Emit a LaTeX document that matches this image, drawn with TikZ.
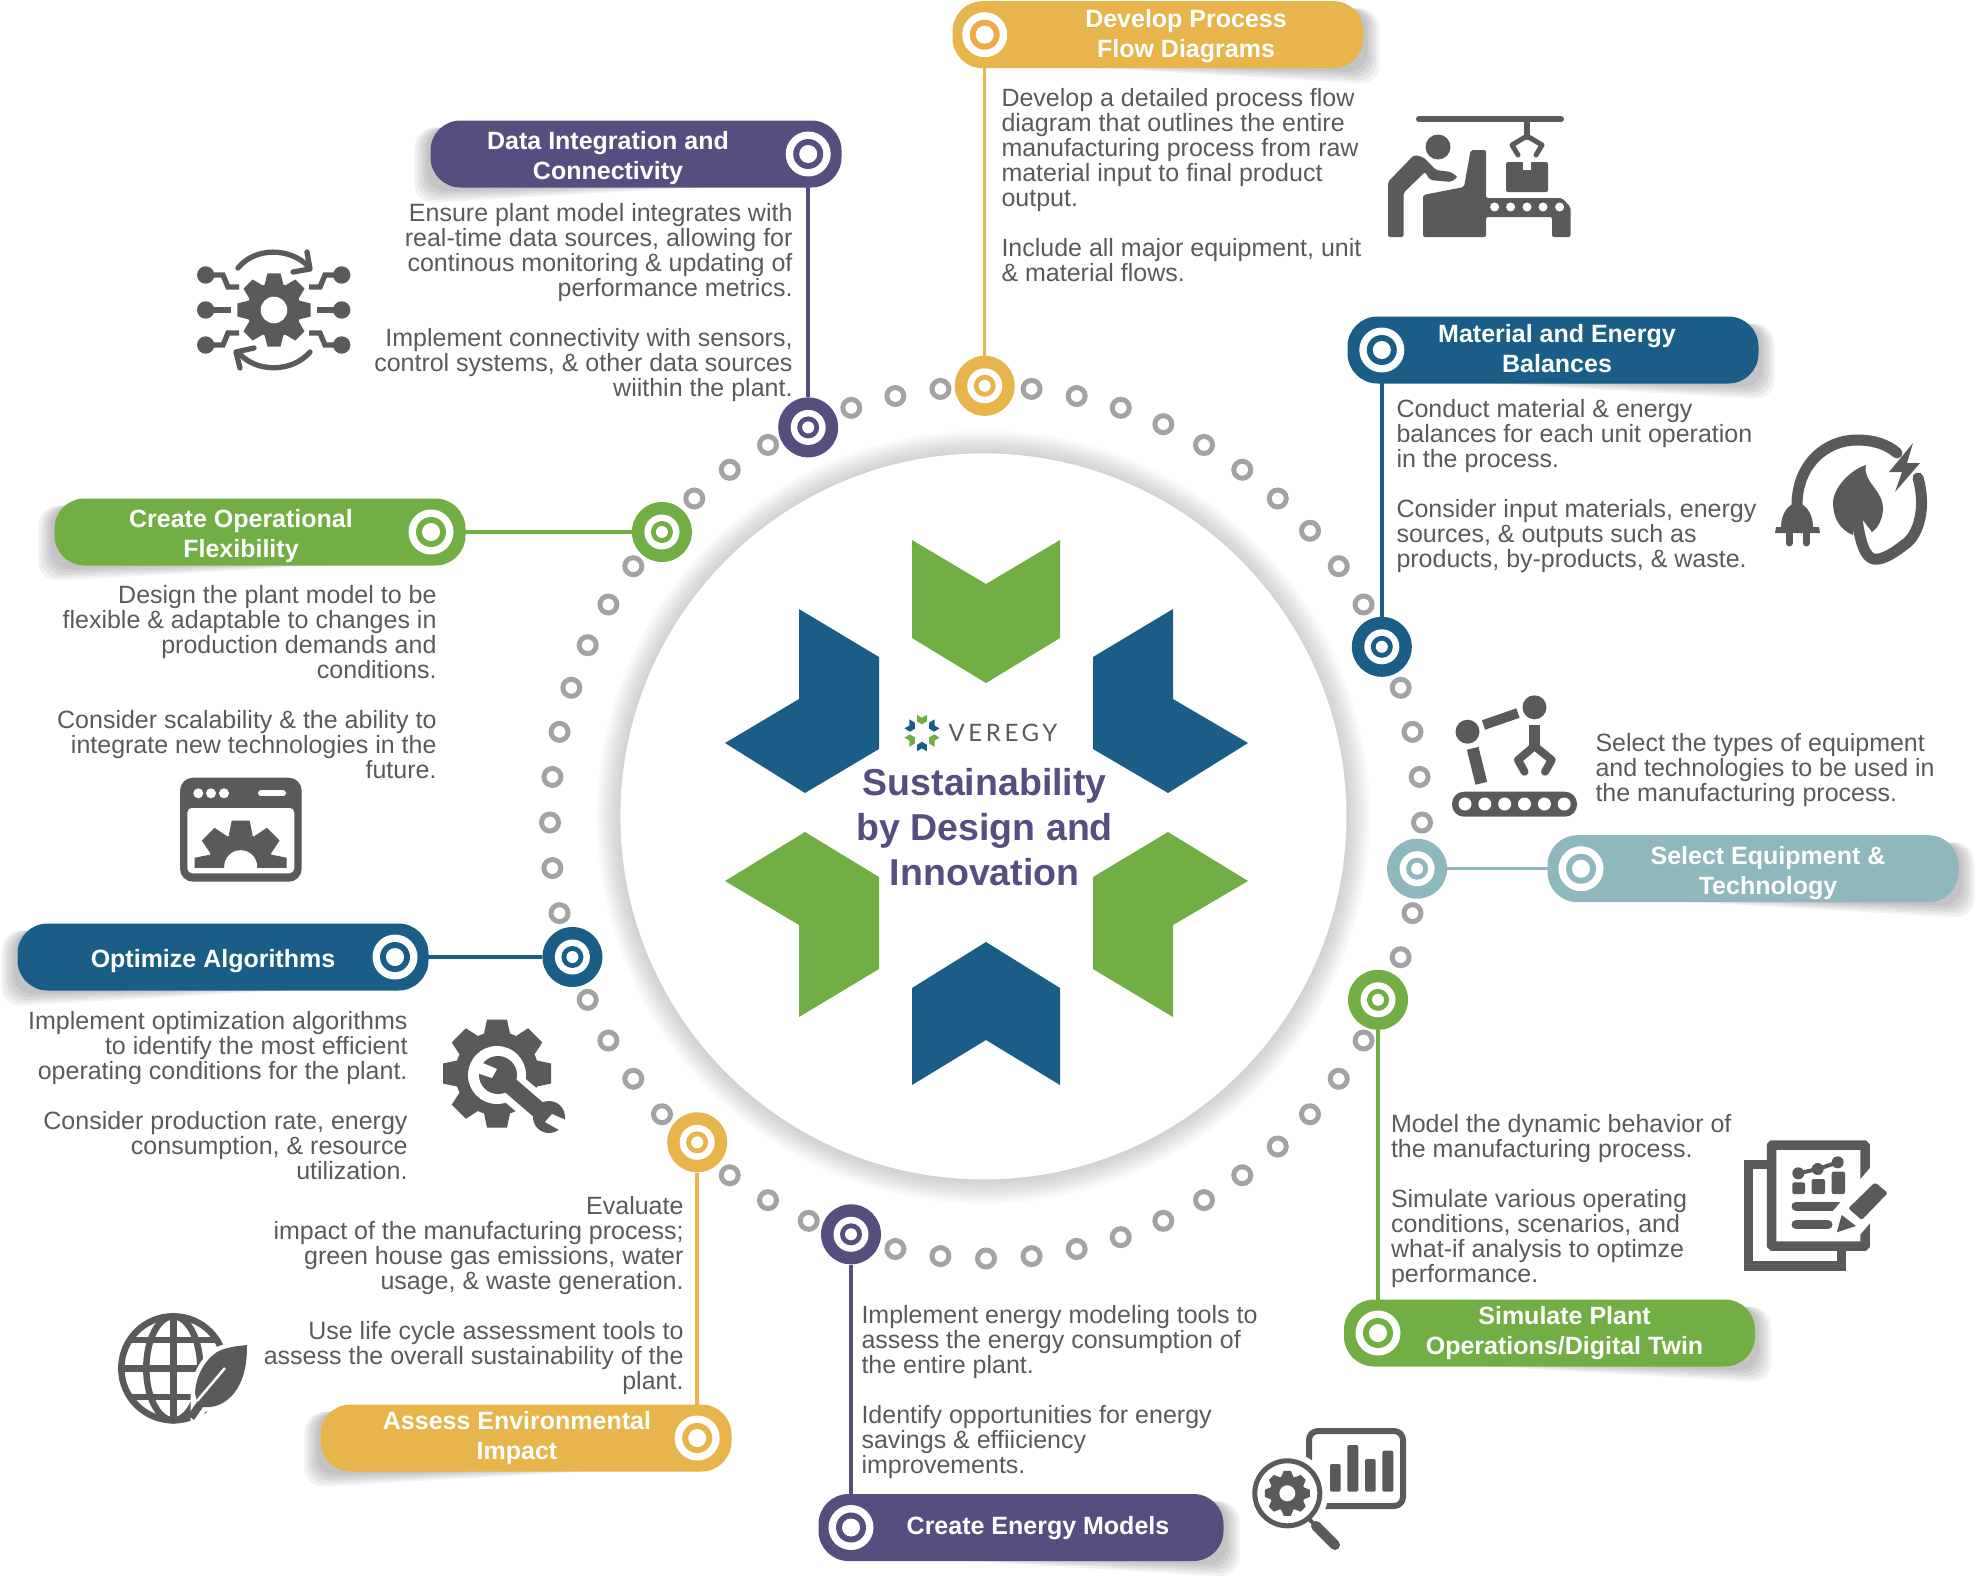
\documentclass[tikz,border=0pt]{standalone}
\usepackage{xcolor}
\usepackage{fontspec}
\setmainfont{Liberation Sans}
\newfontfamily\logofont[LetterSpace=15]{Lato}
\usepackage{tikz}
\usetikzlibrary{positioning,calc,backgrounds}

\definecolor{grape}{HTML}{574E80}
\definecolor{gold}{HTML}{E8B44C}
\definecolor{amber}{HTML}{F2A94B}
\definecolor{ocean}{HTML}{1A5E88}
\definecolor{leaf}{HTML}{71AF44}
\definecolor{mist}{HTML}{8FB7BE}
\definecolor{inkgray}{HTML}{5A5A5A}
\definecolor{ringgray}{HTML}{A3A3A3}

% gear: x, y, body radius, tip radius, hole radius, teeth, tooth half width
\newcommand{\gearicon}[7]{
    \begin{scope}[shift={(#1,#2)}]
        \fill[icon] (0,0) circle (#3pt);
        \pgfmathsetmacro{\gearstep}{360/#6}
        \foreach \t in {1,...,#6} {
            \pgfmathsetmacro{\gearang}{\t*\gearstep}
            \fill[icon, rotate=\gearang] (-#7pt-3pt,#3pt-2pt) -- (-#7pt,#4pt) -- (#7pt,#4pt) -- (#7pt+3pt,#3pt-2pt) -- cycle;
        }
        \fill[white] (0,0) circle (#5pt);
    \end{scope}
}
% the six petals of the logo
\newcommand{\logopetals}{
    \fill[leaf] (912,540) -- (986,584) -- (1060,540) -- (1060,638) -- (986,683) -- (912,638) -- cycle;
    \fill[ocean] (912,988) -- (986,942) -- (1060,988) -- (1060,1085) -- (986,1040) -- (912,1085) -- cycle;
    \fill[ocean] (799,609) -- (879,657) -- (879,749) -- (805,793) -- (725,743) -- (799,699) -- cycle;
    \fill[ocean] (1173,609) -- (1093,657) -- (1093,749) -- (1168,793) -- (1248,743) -- (1173,699) -- cycle;
    \fill[leaf] (725,881) -- (805,832) -- (879,877) -- (879,969) -- (799,1017) -- (799,925) -- cycle;
    \fill[leaf] (1248,881) -- (1168,832) -- (1093,877) -- (1093,969) -- (1173,1017) -- (1173,925) -- cycle;
}

\begin{document}
\begin{tikzpicture}[
    x=1pt, y=-1pt,
    icon/.style={fill=inkgray},
    iconline/.style={draw=inkgray, line width=#1, line cap=round, line join=round},
    ringdot/.style={circle, draw=ringgray, fill=white, line width=5pt, minimum size=17pt, inner sep=0pt},
    hub/.style={circle, fill=#1, minimum size=60pt, inner sep=0pt,
        path picture={
            \fill[white] (path picture bounding box.center) circle (17.5pt);
            \fill[#1] (path picture bounding box.center) circle (11pt);
            \fill[white] (path picture bounding box.center) circle (6pt);
        }},
    bar/.style={rectangle, fill=#1, rounded corners=30pt, minimum width=411pt, minimum height=67pt, inner sep=0pt},
    bareye/.style={circle, fill=white, minimum size=45pt, inner sep=0pt,
        path picture={
            \fill[#1] (path picture bounding box.center) circle (15pt);
            \fill[white] (path picture bounding box.center) circle (9pt);
        }},
    bartext/.style={text=white, font=\fontsize{25}{30}\selectfont\bfseries, align=center, inner sep=0pt},
    link/.style={draw=#1, line width=3.5pt},
    bodyleft/.style={text=inkgray, font=\fontsize{25}{25}\selectfont, align=left, inner sep=0pt},
    bodyright/.style={text=inkgray, font=\fontsize{25}{25}\selectfont, align=right, inner sep=0pt},
    title/.style={text=grape, font=\fontsize{37.5}{44.8}\selectfont\bfseries, align=center, inner sep=0pt}
]
    \useasboundingbox (0,0) rectangle (1977,1579);

    % Centre disc
    \foreach \r in {363,365,...,387} {
        \fill[black, opacity=0.016] (983.4,817) circle (\r pt);
    }
    \fill[white] (983.4,816.4) circle (363pt);
    \logopetals
    \begin{scope}[shift={(922,733)}, scale=0.067, shift={(-986.5,-812)}]
        \logopetals
    \end{scope}
    \node[text=inkgray, font=\fontsize{24}{24}\selectfont\logofont, inner sep=0pt] (brand) at (1003,733) {VEREGY};
    \node[title] (headline) at (984.7,827) {Sustainability\\by Design and\\Innovation};

    % Ring of dots
    \coordinate (ringc) at (986,822.5);
    \foreach \k in {0,...,59} {
        \pgfmathsetmacro{\dotang}{90-6*\k}
        \node[ringdot] (dot\k) at ($(ringc)+(\dotang:436pt)$) {};
    }

    % Hubs on the ring
    \node[hub=grape] (hubData) at (808.2,427.4) {};
    \node[hub=gold] (hubDevelop) at (984.7,385.8) {};
    \node[hub=ocean] (hubMaterial) at (1381.8,646.8) {};
    \node[hub=leaf] (hubFlex) at (661.9,532) {};
    \node[hub=mist] (hubSelect) at (1417.1,868.7) {};
    \node[hub=ocean] (hubOptimize) at (572.4,957) {};
    \node[hub=leaf] (hubSimulate) at (1378,999.8) {};
    \node[hub=gold] (hubAssess) at (697.2,1142.3) {};
    \node[hub=grape] (hubEnergy) at (851,1234.3) {};

    % Bars
    \node[bar=grape] (barData) at (636,154) {};
    \node[bar=gold] (barDevelop) at (1158,34.7) {};
    \node[bar=ocean] (barMaterial) at (1553,350) {};
    \node[bar=leaf] (barFlex) at (260,532) {};
    \node[bar=mist] (barSelect) at (1753,868.7) {};
    \node[bar=ocean] (barOptimize) at (223,957) {};
    \node[bar=leaf] (barSimulate) at (1549.5,1333) {};
    \node[bar=gold] (barAssess) at (526,1438) {};
    \node[bar=grape, minimum width=405pt] (barEnergy) at (1021,1527.5) {};

    % Soft shadows under the bars
    \begin{scope}[on background layer]
        \foreach \b in {barDevelop,barMaterial,barSelect,barSimulate,barEnergy} {
            \foreach \s in {0,3,...,12} {
                \fill[black, opacity=0.05, rounded corners=20pt] ($(\b.south west)+(50,-6)$) -- ($(\b.north east)+(-50,6)$) -- ($(\b.north east)+(16-\s,8)$) -- ($(\b.south east)+(16-\s,16-\s)$) -- cycle;
            }
        }
        \foreach \b in {barData,barFlex,barOptimize,barAssess} {
            \foreach \s in {0,3,...,12} {
                \fill[black, opacity=0.05, rounded corners=20pt] ($(\b.south east)+(-50,-6)$) -- ($(\b.north west)+(50,6)$) -- ($(\b.north west)+(-16+\s,8)$) -- ($(\b.south west)+(-16+\s,16-\s)$) -- cycle;
            }
        }
    \end{scope}

    % Targets on the bars
    \node[bareye=grape] (eyeData) at (808.2,154) {};
    \node[bareye=amber] (eyeDevelop) at (984.7,34.7) {};
    \node[bareye=ocean] (eyeMaterial) at (1381.8,350) {};
    \node[bareye=leaf] (eyeFlex) at (431,532) {};
    \node[bareye=mist] (eyeSelect) at (1581,868.7) {};
    \node[bareye=ocean] (eyeOptimize) at (395,957) {};
    \node[bareye=leaf] (eyeSimulate) at (1378,1333) {};
    \node[bareye=gold] (eyeAssess) at (697.2,1438) {};
    \node[bareye=grape] (eyeEnergy) at (851,1527.5) {};

    % Bar titles
    \node[bartext, xshift=-28pt, yshift=-4pt] (txtData) at (barData) {Data Integration and\\Connectivity};
    \node[bartext, xshift=28pt, yshift=-1pt] (txtDevelop) at (barDevelop) {Develop Process\\Flow Diagrams};
    \node[bartext, xshift=4pt, yshift=1pt] (txtMaterial) at (barMaterial) {Material and Energy\\Balances};
    \node[bartext, xshift=-19pt, yshift=-4pt] (txtFlex) at (barFlex) {Create Operational\\Flexibility};
    \node[bartext, xshift=15pt, yshift=-4.5pt] (txtSelect) at (barSelect) {Select Equipment \&\\Technology};
    \node[bartext, xshift=-10pt, yshift=-4pt] (txtOptimize) at (barOptimize) {Optimize Algorithms};
    \node[bartext, xshift=15pt] (txtSimulate) at (barSimulate) {Simulate Plant\\Operations/Digital Twin};
    \node[bartext, xshift=-9pt] (txtAssess) at (barAssess) {Assess Environmental\\Impact};
    \node[bartext, xshift=17pt, yshift=-1pt] (txtEnergy) at (barEnergy) {Create Energy Models};

    % Connectors
    \draw[link=grape] (hubData) -- (eyeData);
    \draw[link=gold] (hubDevelop) -- (eyeDevelop);
    \draw[link=ocean] (hubMaterial) -- (eyeMaterial);
    \draw[link=leaf] (hubFlex) -- (eyeFlex);
    \draw[link=mist] (hubSelect) -- (eyeSelect);
    \draw[link=ocean] (hubOptimize) -- (eyeOptimize);
    \draw[link=leaf] (hubSimulate) -- (eyeSimulate);
    \draw[link=gold] (hubAssess) -- (eyeAssess);
    \draw[link=grape] (hubEnergy) -- (eyeEnergy);

    % Descriptions
    \node[bodyright, below left=15pt and 49pt of barData.south east] (descData) {Ensure plant model integrates with\\real-time data sources, allowing for\\continous monitoring \& updating of\\performance metrics.\\[25pt]Implement connectivity with sensors,\\control systems, \& other data sources\\wiithin the plant.};
    \node[bodyleft, below right=20pt and 49pt of barDevelop.south west] (descDevelop) {Develop a detailed process flow\\diagram that outlines the entire\\manufacturing process from raw\\material input to final product\\output.\\[25pt]Include all major equipment, unit\\\& material flows.};
    \node[bodyleft, below right=15pt and 49pt of barMaterial.south west] (descMaterial) {Conduct material \& energy\\balances for each unit operation\\in the process.\\[25pt]Consider input materials, energy\\sources, \& outputs such as\\products, by-products, \& waste.};
    \node[bodyright, below left=19pt and 29pt of barFlex.south east] (descFlex) {Design the plant model to be\\flexible \& adaptable to changes in\\production demands and\\conditions.\\[25pt]Consider scalability \& the ability to\\integrate new technologies in the\\future.};
    \node[bodyleft, above right=28pt and 48pt of barSelect.north west] (descSelect) {Select the types of equipment\\and technologies to be used in\\the manufacturing process.};
    \node[bodyright, below left=20pt and 21pt of barOptimize.south east] (descOptimize) {Implement optimization algorithms\\to identify the most efficient\\operating conditions for the plant.\\[25pt]Consider production rate, energy\\consumption, \& resource\\utilization.};
    \node[bodyleft, above right=11.5pt and 47pt of barSimulate.north west] (descSimulate) {Model the dynamic behavior of\\the manufacturing process.\\[25pt]Simulate various operating\\conditions, scenarios, and\\what-if analysis to optimze\\performance.};
    \node[bodyright, above left=9pt and 48pt of barAssess.north east] (descAssess) {Evaluate\\impact of the manufacturing process;\\green house gas emissions, water\\usage, \& waste generation.\\[25pt]Use life cycle assessment tools to\\assess the overall sustainability of the\\plant.};
    \node[bodyleft, above right=15pt and 43pt of barEnergy.north west] (descEnergy) {Implement energy modeling tools to\\assess the energy consumption of\\the entire plant.\\[25pt]Identify opportunities for energy\\savings \& effiiciency\\improvements.};

    % Icon: operator at the conveyor
    \draw[iconline=6pt] (1419,119) -- (1561,119);
    \draw[iconline=6pt] (1527,119) -- (1527,137);
    \draw[iconline=5pt] (1518,155) -- (1512,145) -- (1527,136) -- (1542,145) -- (1536,155);
    \fill[icon, rounded corners=2pt] (1506,162) rectangle (1548,192);
    \fill[white] (1523,162) rectangle (1531,170);
    \fill[icon] (1438,147) circle (12.5pt);
    \fill[icon, rounded corners=2pt] (1414,155) -- (1388,182) -- (1388,237) -- (1403.5,237) -- (1403.5,193) -- (1425,172) -- (1430,180) -- (1451,182) -- (1457.7,177) -- (1451,172) -- (1436,170) -- (1423,157) -- cycle;
    \fill[icon, rounded corners=2pt] (1423,195) -- (1464,187) -- (1470.7,150) -- (1486,150) -- (1486,198) -- (1562,198) -- (1570.5,207) -- (1570.5,237) -- (1552,237) -- (1552,217) -- (1486,217) -- (1486,237) -- (1423,237) -- cycle;
    \foreach \x in {1494.6,1510.6,1527,1543,1559.6} {
        \fill[white] (\x,207) circle (4.5pt);
    }

    % Icon: plug and leaf
    \draw[iconline=11pt] (1797,505) .. controls (1797,465) and (1825,440) .. (1857,440) .. controls (1875,440) and (1888,445) .. (1897,453);
    \fill[icon] (1781,527) .. controls (1781,512) and (1790,503) .. (1797,503) .. controls (1804,503) and (1813,512) .. (1813,527) -- (1819,527) -- (1820,533) -- (1775,533) -- (1776,527) -- cycle;
    \draw[iconline=7pt] (1789,533) -- (1789,543) (1806,533) -- (1806,543);
    \fill[icon] (1913,443) -- (1889,472) -- (1902,472) -- (1895,492) -- (1920,463) -- (1907,463) -- cycle;
    \draw[iconline=11pt] (1918,478) .. controls (1926,505) and (1920,535) .. (1904,545) .. controls (1890,556) and (1878,562) .. (1871,558) .. controls (1862,553) and (1858,530) .. (1856,510);
    \fill[icon] (1866,465) .. controls (1862,482) and (1884,490) .. (1883,510) .. controls (1882,520) and (1878,528) .. (1872,532) -- (1855,510) -- (1853,535) .. controls (1840,530) and (1833,518) .. (1833,503) .. controls (1833,488) and (1850,470) .. (1866,465) -- cycle;

    % Icon: robot arm
    \fill[icon] (1467.5,731.7) circle (12pt);
    \fill[icon] (1534.5,707.3) circle (12pt);
    \draw[inkgray, line width=10pt] (1483.5,725) -- (1518,713);
    \draw[inkgray, line width=12pt] (1472.7,748.3) -- (1481.3,783.3);
    \draw[inkgray, line width=11pt] (1534.5,725) -- (1534.5,748.3);
    \draw[iconline=8pt] (1524.5,771.7) -- (1518,760) -- (1534.5,746) -- (1551.7,760) -- (1545,771.7);
    \fill[icon, rounded corners=12pt] (1452,791.7) rectangle (1577,816.7);
    \foreach \x in {1465,1484.8,1504.7,1524.5,1544.4,1564.2} {
        \fill[white] (\x,804) circle (6.5pt);
    }

    % Icon: connected gear
    \gearicon{274}{310}{27}{36.7}{13.3}{8}{6.5}
    \fill[icon] (205.7,275) circle (8.7pt) (205.7,310) circle (8.7pt) (205.7,345) circle (8.7pt);
    \fill[icon] (341.7,275) circle (8.7pt) (341.7,310) circle (8.7pt) (341.7,345) circle (8.7pt);
    \draw[inkgray, line width=5.3pt] (206,275) -- (223,275) -- (228,287) -- (239,287);
    \draw[inkgray, line width=5.3pt] (206,310) -- (230.7,310);
    \draw[inkgray, line width=5.3pt] (206,345) -- (223,345) -- (228,333) -- (239,333);
    \draw[inkgray, line width=5.3pt] (341,275) -- (325,275) -- (320,287) -- (309,287);
    \draw[inkgray, line width=5.3pt] (341,310) -- (317,310);
    \draw[inkgray, line width=5.3pt] (341,345) -- (325,345) -- (320,333) -- (309,333);
    \draw[iconline=5.3pt] (238,268) .. controls (255,247) and (290,247) .. (309,267);
    \draw[iconline=5.3pt] (307,252) -- (310,269) -- (293,272);
    \draw[iconline=5.3pt] (310,352) .. controls (292,373) and (255,373) .. (238,352);
    \draw[iconline=5.3pt] (240,368) -- (236,352) -- (254,348);

    % Icon: browser window
    \fill[icon, rounded corners=13pt] (180,777.7) rectangle (301.7,881.7);
    \fill[white, rounded corners=5pt] (187.3,807.7) -- (294.3,807.7) -- (294.3,873.3) -- (187.3,873.3) -- cycle;
    \fill[inkgray] (187.3,807.7) rectangle (294.3,800);
    \fill[white] (198.3,793.3) circle (5pt) (211,793.3) circle (5pt) (224,793.3) circle (5pt);
    \draw[white, line width=6pt, line cap=round] (261,793.3) -- (283,793.3);
    \begin{scope}
        \clip (190,815) rectangle (292,867);
        \gearicon{240.7}{866.7}{33}{46}{16.5}{8}{9}
    \end{scope}

    % Icon: gear and wrench
    \gearicon{497}{1073.5}{42}{54}{0}{8}{10}
    \draw[white, line width=31pt, line cap=round] (497,1075) -- (549,1119);
    \fill[white] (497,1075) circle (29pt);
    \fill[white] (549,1119) circle (25pt);
    \fill[icon] (498,1075) circle (19pt);
    \draw[inkgray, line width=17pt] (498,1075) -- (548,1118);
    \fill[icon] (549,1117) circle (16pt);
    \fill[white] (478,1061) -- (497,1069) -- (492,1078) -- (474,1072) -- cycle;
    \fill[white] (545,1122) -- (552,1114) -- (568,1121) -- (561,1131) -- cycle;

    % Icon: globe and leaf
    \draw[iconline=6.5pt] (173.3,1368.3) circle (52pt);
    \draw[iconline=6.5pt] (173.3,1368.3) ellipse (27pt and 52pt);
    \draw[iconline=6.5pt] (173.3,1316) -- (173.3,1420) (121,1368.3) -- (225,1368.3);
    \draw[iconline=6.5pt] (130,1340) -- (217,1340) (130,1397) -- (217,1397);
    \fill[white, draw=white, line width=9pt] (195,1393) .. controls (196,1375) and (205,1360) .. (217,1352) .. controls (226,1347) and (238,1346) .. (247,1345) .. controls (247,1362) and (245,1378) .. (235,1392) .. controls (225,1405) and (213,1408) .. (203,1407) -- (195,1420) -- cycle;
    \fill[icon] (195,1393) .. controls (196,1375) and (205,1360) .. (217,1352) .. controls (226,1347) and (238,1346) .. (247,1345) .. controls (247,1362) and (245,1378) .. (235,1392) .. controls (225,1405) and (213,1408) .. (203,1407) -- (194,1420) -- (188,1415) -- (197,1402) -- cycle;
    \draw[white, line width=2.5pt] (197,1401) -- (225,1368);

    % Icon: report with pencil
    \draw[inkgray, line width=9.5pt, rounded corners=1pt] (1771.5,1145) rectangle (1865,1246);
    \draw[inkgray, line width=9.5pt] (1767,1164.3) -- (1748.7,1164.3) -- (1748.7,1266) -- (1841.7,1266) -- (1841.7,1251);
    \fill[icon, rounded corners=2pt] (1792.3,1182.3) rectangle (1805,1194);
    \fill[icon, rounded corners=2pt] (1811.7,1179) rectangle (1825,1194);
    \fill[icon, rounded corners=2pt] (1831.7,1171.7) rectangle (1845,1194);
    \draw[iconline=4pt] (1798.3,1173.3) -- (1817.7,1169) -- (1837.7,1162.3);
    \fill[icon] (1798.3,1173.3) circle (6pt) (1817.7,1169) circle (6pt) (1837.7,1162.3) circle (6pt);
    \draw[iconline=9pt] (1796,1206) -- (1839,1206);
    \draw[iconline=9pt] (1796,1224.7) -- (1828,1224.7);
    \draw[white, line width=36pt] (1892,1170) -- (1842,1228);
    \fill[icon, rounded corners=2pt] (1875,1182.3) -- (1887.7,1193) -- (1861.7,1220) -- (1848.3,1208.3) -- cycle;
    \fill[icon] (1841.7,1215) -- (1856,1226) -- (1836.7,1232.3) -- cycle;

    % Icon: chart under a magnifier
    \draw[inkgray, line width=6pt, rounded corners=9pt] (1309,1431) rectangle (1403,1506);
    \fill[icon, rounded corners=2pt] (1330,1464) rectangle (1340.7,1491.7);
    \fill[icon, rounded corners=2pt] (1347.3,1445) rectangle (1358.3,1491.7);
    \fill[icon, rounded corners=2pt] (1365,1459) rectangle (1375.7,1491.7);
    \fill[icon, rounded corners=2pt] (1382.3,1450.7) rectangle (1393.3,1491.7);
    \fill[white] (1287.3,1493.3) circle (41pt);
    \draw[inkgray, line width=5pt] (1287.3,1493.3) circle (32.5pt);
    \gearicon{1287.3}{1493.3}{17.5}{22.5}{8}{8}{3.5}
    \draw[inkgray, line width=4pt] (1308,1518) -- (1316,1526);
    \draw[iconline=10pt] (1316,1526) -- (1335,1545);
\end{tikzpicture}
\end{document}
